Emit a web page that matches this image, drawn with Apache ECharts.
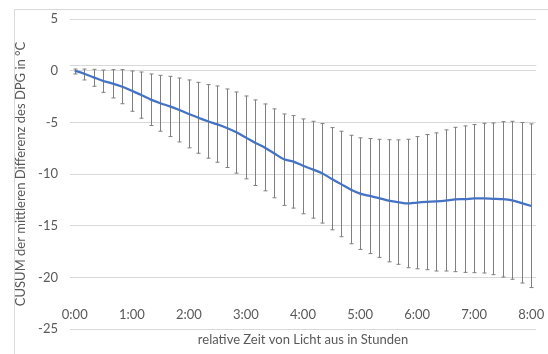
<!DOCTYPE html>
<html>
<head>
<meta charset="utf-8">
<script src="https://cdn.jsdelivr.net/npm/echarts@6/dist/echarts.min.js"></script>
<style>
html,body{margin:0;padding:0;background:#fff;}
#chart{width:548px;height:354px;}
</style>
</head>
<body>
<div id="chart"></div>
<script>
var times = ["0:00","0:10","0:20","0:30","0:40","0:50","1:00","1:10","1:20","1:30","1:40","1:50",
"2:00","2:10","2:20","2:30","2:40","2:50","3:00","3:10","3:20","3:30","3:40","3:50",
"4:00","4:10","4:20","4:30","4:40","4:50","5:00","5:10","5:20","5:30","5:40","5:50",
"6:00","6:10","6:20","6:30","6:40","6:50","7:00","7:10","7:20","7:30","7:40","7:50","8:00"];

var cusum = [0,-0.3,-0.65,-1.0,-1.25,-1.55,-1.95,-2.35,-2.8,-3.15,-3.45,-3.8,
-4.2,-4.55,-4.9,-5.2,-5.55,-5.97,-6.48,-7.0,-7.45,-8.02,-8.58,-8.8,
-9.2,-9.55,-9.93,-10.46,-10.98,-11.5,-11.9,-12.12,-12.33,-12.57,-12.72,-12.85,
-12.76,-12.7,-12.66,-12.58,-12.46,-12.43,-12.37,-12.36,-12.4,-12.44,-12.56,-12.82,-13.1];

var errHigh = [0.16,0.16,0.13,0.06,0.1,0.1,-0.03,-0.13,-0.32,-0.45,-0.55,-0.71,
-0.9,-1.13,-1.35,-1.48,-1.77,-2.06,-2.45,-2.83,-3.22,-3.7,-4.19,-4.35,
-4.67,-4.9,-5.12,-5.51,-5.86,-6.25,-6.5,-6.57,-6.64,-6.68,-6.7,-6.64,
-6.38,-6.18,-6.02,-5.73,-5.48,-5.35,-5.22,-5.09,-5.06,-4.93,-4.9,-5.02,-5.15];

var errLow = [-0.32,-0.9,-1.51,-2.1,-2.64,-3.2,-3.93,-4.6,-5.31,-5.86,-6.38,-6.9,
-7.47,-7.99,-8.47,-8.86,-9.37,-9.92,-10.47,-11.11,-11.63,-12.3,-13.04,-13.3,
-13.85,-14.27,-14.75,-15.4,-16.07,-16.75,-17.3,-17.7,-18.07,-18.5,-18.74,-19.07,
-19.17,-19.26,-19.39,-19.39,-19.45,-19.52,-19.55,-19.58,-19.74,-19.97,-20.19,-20.55,-20.99];

var yTicks = {min: -25, max: 5, step: 5};

var FONT = 'Lato';
var TXT = '#595959';
var GRID = '#d9d9d9';

var errData = times.map(function (t, i) { return [i, errLow[i], errHigh[i]]; });

var chart = echarts.init(document.getElementById('chart'), null, {renderer: 'canvas'});
chart.setOption({
  animation: false,
  textStyle: {fontFamily: FONT},
  grid: [
    {left: 70, right: 12, top: 19, bottom: 25},
    {left: 70, right: 12, top: 19, bottom: 57}
  ],
  xAxis: [
    {type: 'category', gridIndex: 0, data: times, boundaryGap: true,
     axisLine: {show: false}, axisTick: {show: false}, axisLabel: {show: false}, splitLine: {show: false}},
    {type: 'category', gridIndex: 1, data: times, boundaryGap: true,
     axisLine: {show: true, lineStyle: {color: GRID, width: 1}}, axisTick: {show: false},
     axisLabel: {interval: 5, color: TXT, fontSize: 13, fontFamily: FONT, margin: 11},
     splitLine: {show: false}}
  ],
  yAxis: [
    {type: 'value', gridIndex: 0, min: yTicks.min, max: yTicks.max, interval: yTicks.step,
     axisLine: {show: false}, axisTick: {show: false},
     axisLabel: {color: TXT, fontSize: 13, fontFamily: FONT, margin: 12},
     splitLine: {lineStyle: {color: GRID, width: 1}},
     name: 'CUSUM der mittleren Differenz des DPG in °C', nameLocation: 'middle', nameGap: 37,
     nameTextStyle: {color: TXT, fontSize: 13, fontFamily: FONT}},
    {type: 'value', gridIndex: 1, min: yTicks.min, max: yTicks.max, show: false}
  ],
  graphic: [
    {type: 'rect', left: 12, top: 7, shape: {x: 0, y: 0, width: 600, height: 400},
     style: {fill: 'none', stroke: GRID, lineWidth: 1}, silent: true, z: -1},
    {type: 'text', x: 303, y: 340,
     style: {text: 'relative Zeit von Licht aus in Stunden', fill: TXT, font: '13px ' + FONT,
             textAlign: 'center', textVerticalAlign: 'middle'},
     silent: true}
  ],
  series: [
    {
      type: 'custom', xAxisIndex: 0, yAxisIndex: 0, data: errData, z: 2,
      renderItem: function (params, api) {
        var x = api.value(0);
        var lo = api.coord([x, api.value(1)]);
        var hi = api.coord([x, api.value(2)]);
        var cx = Math.round(lo[0]) + 0.5;
        var cap = 2;
        var st = {stroke: '#7f7f7f', lineWidth: 1};
        return {type: 'group', children: [
          {type: 'line', shape: {x1: cx, y1: hi[1], x2: cx, y2: lo[1]}, style: st},
          {type: 'line', shape: {x1: cx - cap, y1: hi[1], x2: cx + cap, y2: hi[1]}, style: st},
          {type: 'line', shape: {x1: cx - cap, y1: lo[1], x2: cx + cap, y2: lo[1]}, style: st}
        ]};
      }
    },
    {
      type: 'line', xAxisIndex: 0, yAxisIndex: 0, data: cusum, z: 3,
      smooth: 0.3, showSymbol: false,
      lineStyle: {color: '#4472C4', width: 2.25}
    }
  ]
});
</script>
</body>
</html>
